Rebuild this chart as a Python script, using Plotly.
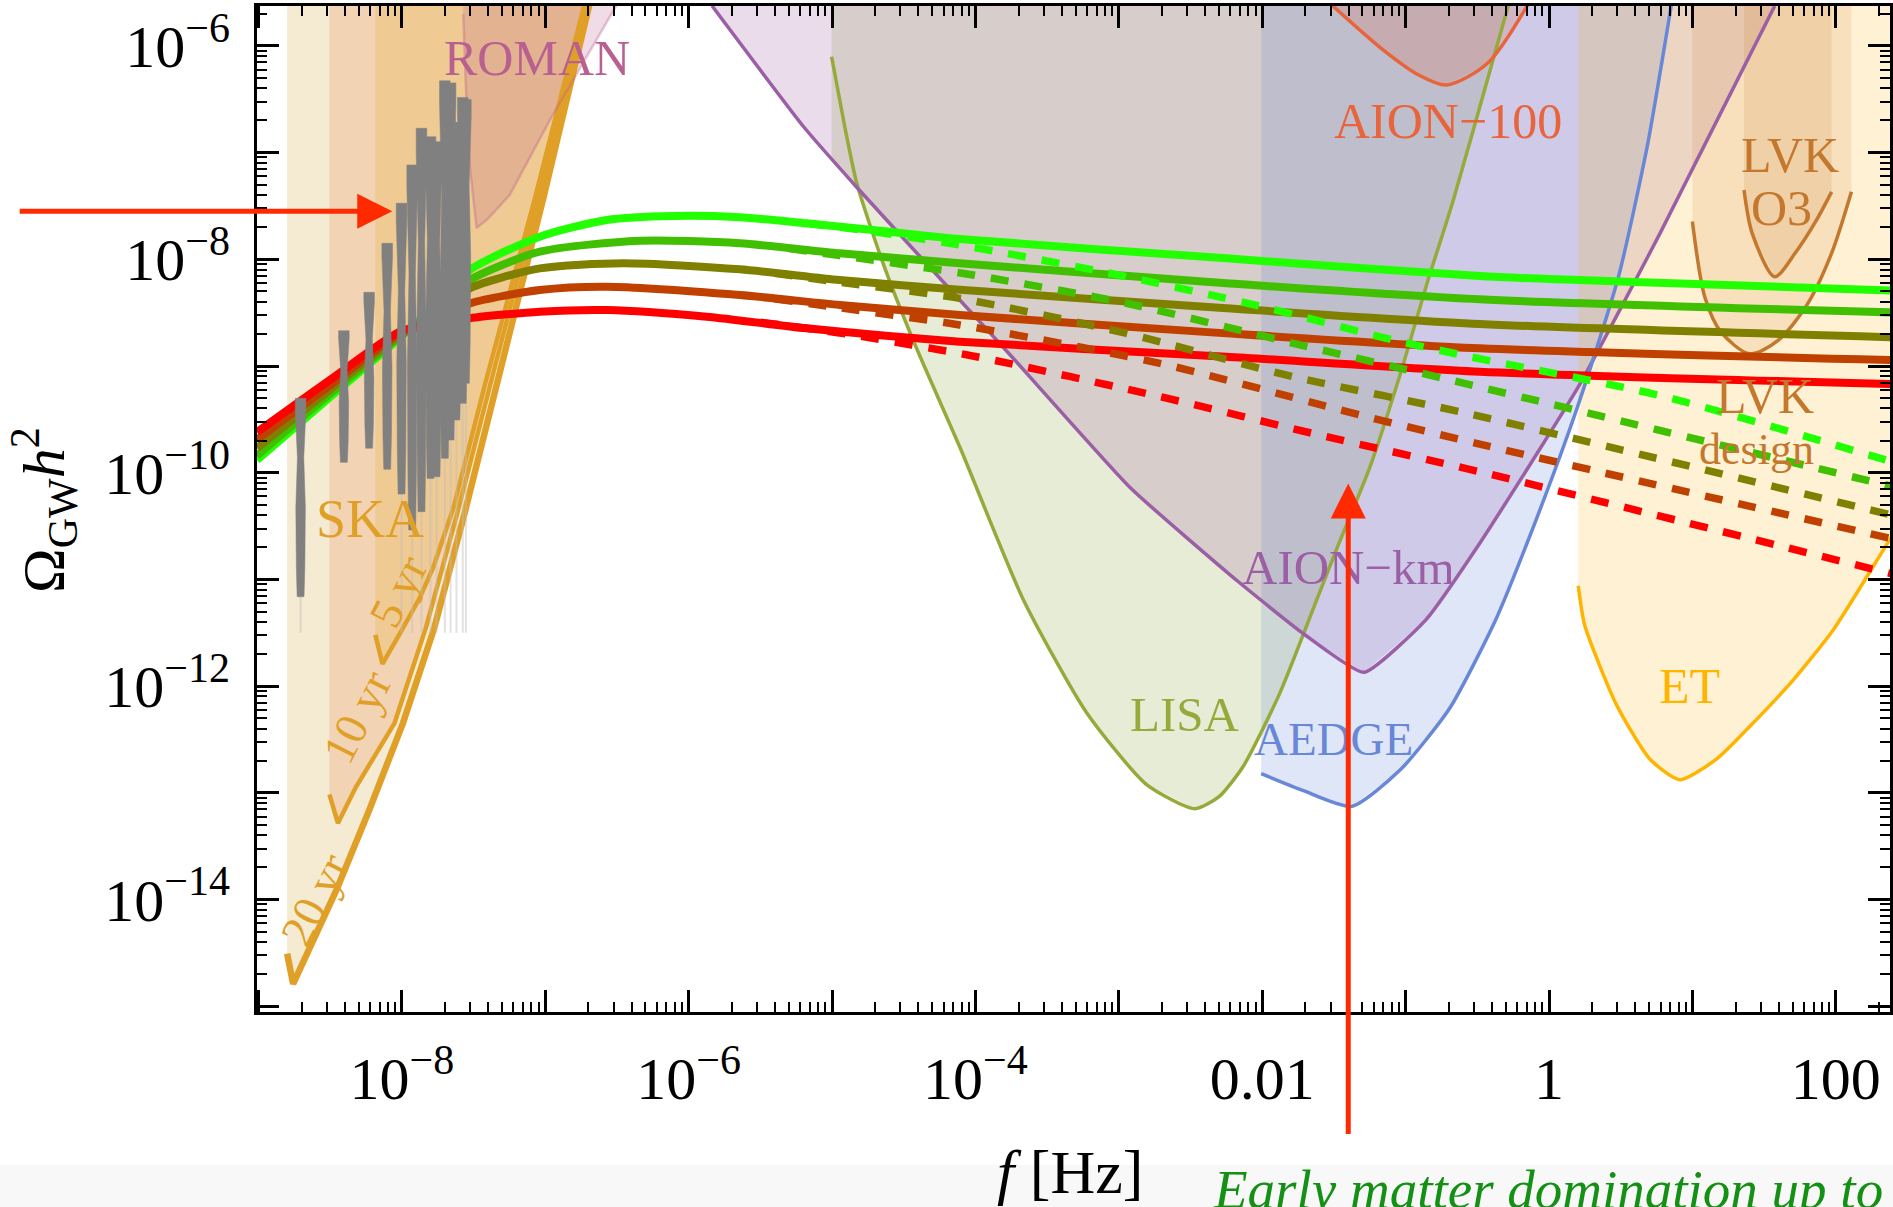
import numpy as np
import plotly.graph_objects as go

# ---------------- axes (log10 units) ----------------
X_RANGE = [-9.01, 2.378]
Y_RANGE = [-15.054, -5.626]
TOP = -5.0  # above the frame, used to close filled regions

# ---------------- GW spectra (log10 f [Hz], log10 Omega h^2) ----------------
spec_colors = ["#22FF00", "#40C000", "#808000", "#C04000", "#FF0000"]

bg_solid_x = [-9.01, -8.5, -8.0, -7.75, -7.526, -7.038, -6.572, -6.108, -5.643, -5.178, -4.713, -4.109, -2.249, -0.483, 0.487, 2.397]
bg_solid_y = [-9.88, -9.29, -8.72, -8.40, -8.10, -7.788, -7.632, -7.594, -7.606, -7.663, -7.725, -7.81, -7.991, -8.157, -8.208, -8.293]
g_solid_x = [-9.01, -8.5, -8.0, -7.75, -7.526, -7.038, -6.340, -5.643, -4.946, -4.109, -2.249, -0.483, 2.397]
g_solid_y = [-9.84, -9.26, -8.71, -8.45, -8.194, -7.929, -7.826, -7.850, -7.944, -8.037, -8.225, -8.375, -8.498]
o_solid_x = [-9.01, -8.5, -8.0, -7.75, -7.526, -7.038, -6.457, -5.643, -4.946, -4.109, -2.249, -0.483, 2.397]
o_solid_y = [-9.77, -9.22, -8.70, -8.50, -8.272, -8.085, -8.037, -8.094, -8.194, -8.285, -8.459, -8.606, -8.730]
or_solid_x = [-9.01, -8.5, -8.0, -7.75, -7.526, -7.038, -6.572, -5.643, -4.946, -4.109, -2.249, -0.483, 2.397]
or_solid_y = [-9.69, -9.18, -8.68, -8.56, -8.413, -8.288, -8.257, -8.335, -8.428, -8.522, -8.694, -8.834, -8.945]
r_solid_x = [-9.01, -8.5, -8.0, -7.75, -7.526, -7.038, -6.572, -5.875, -5.178, -4.109, -2.249, -0.483, 2.397]
r_solid_y = [-9.62, -9.13, -8.67, -8.62, -8.553, -8.491, -8.475, -8.538, -8.647, -8.772, -8.913, -9.053, -9.170]

bg_dash_x = [-5.178, -4.713, -4.039, -3.063, -2.017, -1.087, -0.552, 0.773, 2.397]
bg_dash_y = [-7.663, -7.740, -7.882, -8.131, -8.438, -8.756, -8.913, -9.276, -9.900]
g_dash_x = [-5.3, -4.946, -4.016, -2.946, -1.784, -0.738, 2.397]
g_dash_y = [-7.90, -7.965, -8.147, -8.412, -8.787, -9.115, -10.13]
o_dash_x = [-5.4, -4.946, -4.109, -2.946, -1.784, -0.622, 2.397]
o_dash_y = [-8.13, -8.215, -8.366, -8.694, -9.100, -9.428, -10.40]
or_dash_x = [-5.4, -4.946, -4.109, -2.713, -1.319, -0.506, 2.397]
or_dash_y = [-8.37, -8.455, -8.615, -8.975, -9.459, -9.725, -10.62]
r_dash_x = [-5.5, -4.946, -3.992, -2.713, -1.552, -0.483, 2.397]
r_dash_y = [-8.59, -8.69, -8.913, -9.287, -9.662, -9.991, -10.95]

# ---------------- PTA data (violins) ----------------
viol_x = [-8.706, -8.404, -8.228, -8.102, -8.002, -7.928, -7.863, -7.800, -7.758, -7.700, -7.660, -7.619, -7.575, -7.553]
viol_top = [-9.303, -8.669, -8.309, -7.850, -7.475, -7.116, -6.772, -6.851, -6.898, -6.327, -6.347, -6.716, -6.483, -6.502]
viol_bot = [-11.162, -9.903, -9.771, -9.968, -10.200, -10.537, -10.365, -10.053, -10.037, -9.865, -9.694, -9.506, -9.350, -9.162]
viol_tail = [-11.50] * 14

# ---------------- SKA ----------------
ska20_x = [-8.800, -8.758, -8.455, -8.227, -7.992, -7.773, -7.562, -7.343, -7.015, -6.681]
ska20_y = [-14.507, -14.790, -13.907, -13.161, -12.346, -11.452, -10.378, -9.190, -7.437, -5.55]
ska10_x = [-8.505, -8.446, -8.320, -8.051, -7.832, -7.613, -7.386, -7.049, -6.698]
ska10_y = [-13.014, -13.285, -12.946, -12.346, -11.452, -10.378, -9.190, -7.437, -5.55]
ska5_x = [-8.185, -8.135, -8.000, -7.874, -7.781, -7.638, -7.419, -7.074, -6.715]
ska5_y = [-11.520, -11.792, -11.475, -11.170, -10.887, -10.321, -9.167, -7.437, -5.55]

# ---------------- ROMAN ----------------
roman_x = [-7.572, -7.55, -7.526, -7.479, -7.40, -7.247, -6.968, -6.736, -6.549, -6.45]
roman_y = [-5.70, -6.50, -7.124, -7.707, -7.62, -7.396, -6.696, -6.153, -5.725, -5.50]

# ---------------- LISA ----------------
lisa_x = [-5.003, -4.911, -4.827, -4.650, -4.423, -4.103, -3.665, -3.227, -2.806, -2.470, -2.301, -2.133, -1.880, -1.620, -1.485, -1.249, -1.022, -0.854, -0.668, -0.382, -0.273]
lisa_y = [-6.102, -6.758, -7.290, -8.014, -8.794, -9.778, -11.192, -12.244, -12.923, -13.149, -13.036, -12.753, -12.075, -11.192, -10.729, -9.948, -9.009, -8.240, -7.448, -6.090, -5.570]

# ---------------- AION-km ----------------
aionkm_x = [-5.837, -5.201, -4.826, -4.109, -3.727, -2.918, -2.166, -1.712, -1.291, -0.859, -0.483, 0.202, 0.774, 1.574]
aionkm_y = [-5.624, -6.753, -7.327, -8.381, -8.941, -10.143, -11.022, -11.509, -11.871, -11.379, -10.661, -9.201, -7.757, -5.626]

# ---------------- AEDGE ----------------
aedge_x = [-2.007, -1.712, -1.375, -1.039, -0.694, -0.374, -0.088, 0.199, 0.485, 0.687, 0.855]
aedge_y = [-12.821, -12.980, -13.127, -12.787, -12.210, -11.385, -10.434, -9.382, -8.161, -6.928, -5.60]

# ---------------- AION-100 ----------------
aion100_x = [-1.57, -1.144, -0.912, -0.715, -0.429, -0.12]
aion100_y = [-5.55, -6.052, -6.271, -6.367, -6.163, -5.55]

# ---------------- ET ----------------
et_x = [0.204, 0.249, 0.471, 0.704, 0.913, 1.167, 1.403, 1.704, 1.983, 2.331, 2.45]
et_y = [-11.059, -11.430, -12.176, -12.685, -12.877, -12.685, -12.374, -11.941, -11.471, -10.725, -10.47]

# ---------------- LVK ----------------
lvkd_x = [1.000, 1.086, 1.200, 1.400, 1.600, 1.800, 1.971, 2.109]
lvkd_y = [-7.645, -8.350, -8.683, -8.886, -8.757, -8.424, -7.942, -7.367]
lvko3_x = [1.360, 1.417, 1.574, 1.717, 1.860, 1.971]
lvko3_y = [-7.350, -7.757, -8.164, -7.941, -7.645, -7.368]

# ---------------- colours ----------------
C_SKA = "rgb(224,160,40)"
C_ROMAN = "rgb(184,96,144)"
C_LISA = "rgb(150,170,60)"
C_AIONKM = "rgb(155,95,165)"
C_AEDGE = "rgb(105,135,215)"
C_AION100 = "rgb(232,100,60)"
C_ET = "rgb(255,180,0)"
C_LVK = "rgb(195,120,45)"
C_ARROW = "rgb(255,42,0)"
SERIF = "Liberation Serif"

P = lambda a: [10.0 ** v if v is not None else None for v in a]

fig = go.Figure()


def add_fill(xl, yl, color):
    fig.add_trace(go.Scatter(x=P(xl), y=P(yl), mode="lines", fill="toself",
                             fillcolor=color, line=dict(width=0), hoverinfo="skip",
                             showlegend=False))


def add_line(xl, yl, color, width, dash="solid", shape="spline", smoothing=0.8):
    fig.add_trace(go.Scatter(x=P(xl), y=P(yl), mode="lines",
                             line=dict(color=color, width=width, dash=dash, shape=shape,
                                       smoothing=smoothing),
                             hoverinfo="skip", showlegend=False))


def region_above(cx, cy):
    return [cx[0]] + list(cx) + [cx[-1], cx[0]], [TOP] + list(cy) + [TOP, TOP]


# --- SKA fills
for cx, cy, col in [(ska20_x, ska20_y, "rgba(205,155,30,0.20)"),
                    (ska10_x, ska10_y, "rgba(230,120,60,0.20)"),
                    (ska5_x, ska5_y, "rgba(232,164,13,0.20)")]:
    add_fill(*region_above(cx, cy), col)

# --- ROMAN fill
add_fill(*region_above(roman_x, roman_y), "rgba(185,95,140,0.22)")

# --- LISA fill: above LISA, plus above AION-km curve from the LISA start frequency
lx = np.array(lisa_x); ly = np.array(lisa_y)
kx = np.array(aionkm_x); ky = np.array(aionkm_y)
grid = np.linspace(lx[0], lx[int(np.argmin(ly))], 600)
lis_g = np.interp(grid, lx, ly)
pur_g = np.interp(grid, kx, ky)
xc = grid[int(np.argmax(lis_g <= pur_g))]
poly_x = [lx[0], lx[0]] + [v for v in kx if lx[0] < v < xc] + [xc] + [v for v in lx if v > xc] + [lx[-1]]
poly_y = [TOP, float(np.interp(lx[0], kx, ky))] + [ky[i] for i, v in enumerate(kx) if lx[0] < v < xc] \
         + [float(np.interp(xc, kx, ky))] + [ly[i] for i, v in enumerate(lx) if v > xc] + [TOP]
add_fill(poly_x, poly_y, "rgba(160,178,90,0.25)")

# --- other fills
add_fill(*region_above(aionkm_x, aionkm_y), "rgba(155,90,160,0.21)")
add_fill(*region_above(aedge_x, aedge_y), "rgba(105,135,215,0.21)")
add_fill(*region_above(aion100_x, aion100_y), "rgba(232,100,60,0.20)")
add_fill(*region_above(et_x, et_y), "rgba(255,180,0,0.17)")
add_fill(*region_above(lvkd_x, lvkd_y), "rgba(200,120,50,0.15)")
add_fill(*region_above(lvko3_x, lvko3_y), "rgba(200,120,50,0.15)")

# --- sensitivity curves
add_line(ska20_x, ska20_y, C_SKA, 6.5, shape="linear")
add_line(ska10_x, ska10_y, C_SKA, 4.5, shape="linear")
add_line(ska5_x, ska5_y, C_SKA, 4.5, shape="linear")
add_line(roman_x, roman_y, "rgba(185,95,140,0.35)", 2.5, shape="linear")
add_line(lisa_x, lisa_y, C_LISA, 3.5, smoothing=0.6)
add_line(aionkm_x, aionkm_y, C_AIONKM, 3.5, smoothing=0.45)
add_line(aedge_x, aedge_y, C_AEDGE, 3.5, smoothing=0.6)
add_line(aion100_x, aion100_y, C_AION100, 3.5)
add_line(et_x, et_y, C_ET, 3.5, smoothing=0.6)
add_line(lvkd_x, lvkd_y, C_LVK, 3.5)
add_line(lvko3_x, lvko3_y, C_LVK, 3.5)

# --- faint PTA tails
tx, ty = [], []
for i in range(len(viol_x)):
    if i == 0 or i >= 4:
        tx += [viol_x[i], viol_x[i], None]
        ty += [viol_bot[i], viol_tail[i], None]
add_line(tx, ty, "rgba(190,190,190,0.45)", 2, shape="linear")

# --- spectra
solids = [(bg_solid_x, bg_solid_y), (g_solid_x, g_solid_y), (o_solid_x, o_solid_y),
          (or_solid_x, or_solid_y), (r_solid_x, r_solid_y)]
dashes = [(bg_dash_x, bg_dash_y), (g_dash_x, g_dash_y), (o_dash_x, o_dash_y),
          (or_dash_x, or_dash_y), (r_dash_x, r_dash_y)]
for (sx, sy), col in zip(solids, spec_colors):
    add_line(sx, sy, col, 8, smoothing=0.7)
for (dx, dy), col in zip(dashes, spec_colors):
    add_line(dx, dy, col, 7.5, dash="18px,16px", smoothing=0.7)

# --- violins (PTA data)
vt = [0.0, 0.06, 0.3, 0.55, 0.85, 1.0]
vw = [1.0, 1.0, 0.6, 0.9, 0.8, 0.65]
HW = 0.037
vx_all, vy_all = [], []
for cx, t0, b0 in zip(viol_x, viol_top, viol_bot):
    ys = [t0 - t * (t0 - b0) for t in vt]
    left = [cx - HW * w for w in vw]
    right = [cx + HW * w for w in vw]
    vx_all += left + right[::-1] + [left[0], None]
    vy_all += ys + ys[::-1] + [ys[0], None]
fig.add_trace(go.Scatter(x=P(vx_all), y=P(vy_all), mode="lines", fill="toself",
                         fillcolor="rgb(128,128,128)", line=dict(width=0.5, color="rgb(128,128,128)"),
                         hoverinfo="skip", showlegend=False))

# --- labels
labels = [
    ("ROMAN", -7.057, -6.113, C_ROMAN, 50, 0),
    ("SKA", -8.219, -10.434, C_SKA, 54, 0),
    ("20 yr", -8.606, -14.00, C_SKA, 46, -63),
    ("10 yr", -8.311, -12.285, C_SKA, 46, -63),
    ("5 yr", -8.025, -11.113, C_SKA, 46, -63),
    ("AION−100", -0.702, -6.701, C_AION100, 50, 0),
    ("LVK", 1.680, -7.018, C_LVK, 50, 0),
    ("O3", 1.621, -7.516, C_LVK, 50, 0),
    ("LVK", 1.503, -9.281, C_LVK, 50, 0),
    ("design", 1.444, -9.778, C_LVK, 44, 0),
    ("ET", 0.981, -11.995, C_ET, 50, 0),
    ("AION−km", -1.401, -10.887, C_AIONKM, 49, 0),
    ("LISA", -2.537, -12.267, C_LISA, 49, 0),
    ("AEDGE", -1.502, -12.493, C_AEDGE, 47, 0),
]
for txt, x, y, col, sz, ang in labels:
    fig.add_annotation(x=x, y=y, xref="x", yref="y", text=txt, showarrow=False,
                       xanchor="center", yanchor="middle",
                       textangle=ang, font=dict(family=SERIF, size=sz, color=col))

# --- red arrows
fig.add_annotation(x=-8.067, y=-7.55, xref="x", yref="y", ax=-374, ay=0, text="",
                   showarrow=True, arrowhead=2, arrowsize=1.4, arrowwidth=5, arrowcolor=C_ARROW)
fig.add_annotation(x=-1.400, y=-10.10, xref="x", yref="y", ax=0, ay=652, text="",
                   showarrow=True, arrowhead=2, arrowsize=1.4, arrowwidth=5, arrowcolor=C_ARROW)

# --- axis titles and caption
fig.add_annotation(x=0.498, y=-0.159, xref="paper", yref="paper", text="<i>f</i> [Hz]",
                   xanchor="center", yanchor="middle",
                   showarrow=False, font=dict(family=SERIF, size=62, color="black"))
fig.add_annotation(x=-0.1305, y=0.499, xref="paper", yref="paper",
                   text="Ω<sub>GW</sub><i>h</i><sup>2</sup>", textangle=-90,
                   xanchor="center", yanchor="middle",
                   showarrow=False, font=dict(family=SERIF, size=60, color="black"))
fig.add_annotation(x=0.5845, y=-0.1765, xref="paper", yref="paper", xanchor="left",
                   yanchor="middle", text="<i>Early matter domination up to</i>",
                   showarrow=False, font=dict(family=SERIF, size=55, color="rgb(20,145,20)"))
fig.add_shape(type="rect", xref="paper", yref="paper", x0=-0.2, x1=1.05, y0=-0.152, y1=-0.25,
              fillcolor="rgb(248,248,248)", line=dict(width=0), layer="below")

# --- ticks
sup = lambda n: "10<sup>−%d</sup>" % (-n)
x_dec = list(range(-9, 3))
x_text = {-8: sup(-8), -6: sup(-6), -4: sup(-4), -2: "0.01", 0: "1", 2: "100"}
y_dec = list(range(-15, -5))
y_text = {-6: sup(-6), -8: sup(-8), -10: sup(-10), -12: sup(-12), -14: sup(-14)}
minor_x = [k * 10.0 ** n for n in range(-10, 3) for k in range(2, 10)]
minor_y = [k * 10.0 ** n for n in range(-16, -5) for k in range(2, 10)]

axis_common = dict(type="log", showline=True, linecolor="black", linewidth=3, mirror="allticks",
                   ticks="inside", ticklen=22, tickwidth=2.5, tickcolor="black", showgrid=False,
                   zeroline=False, tickfont=dict(family=SERIF, size=60, color="black"),
                   ticklabelstandoff=12, automargin=False)
fig.update_xaxes(range=X_RANGE, tickmode="array", tickvals=[10.0 ** n for n in x_dec],
                 ticktext=[x_text.get(n, "") for n in x_dec],
                 minor=dict(tickmode="array", tickvals=minor_x, ticks="inside", ticklen=10,
                            tickwidth=2, tickcolor="black", showgrid=False), **axis_common)
fig.update_yaxes(range=Y_RANGE, tickmode="array", tickvals=[10.0 ** n for n in y_dec],
                 ticktext=[y_text.get(n, "") for n in y_dec],
                 minor=dict(tickmode="array", tickvals=minor_y, ticks="inside", ticklen=10,
                            tickwidth=2, tickcolor="black", showgrid=False), **axis_common)

fig.update_layout(width=1893, height=1207, margin=dict(l=257, r=3, t=6, b=195),
                  paper_bgcolor="white", plot_bgcolor="white", showlegend=False)

fig.write_html("out.html", config={"displayModeBar": False},
               post_script="document.body.style.margin='0px';")
